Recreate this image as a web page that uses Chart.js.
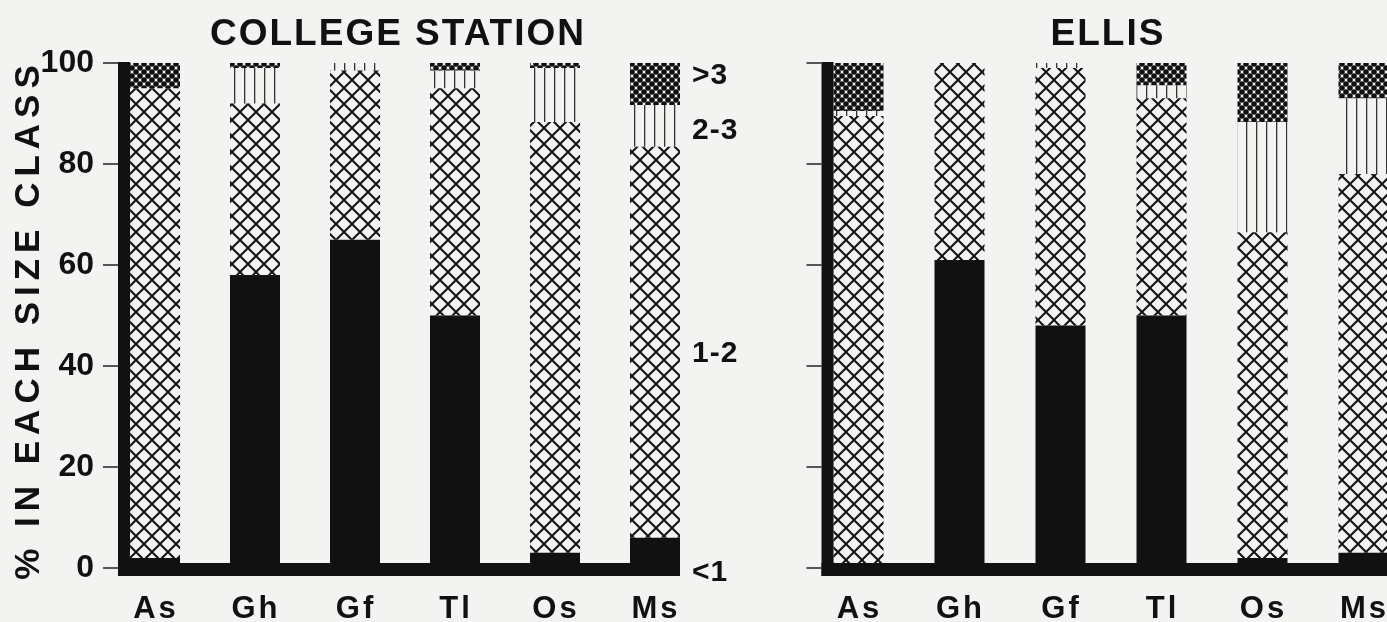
<!DOCTYPE html>
<html>
<head>
<meta charset="utf-8">
<script src="https://cdn.jsdelivr.net/npm/chart.js@4.4.1/dist/chart.umd.min.js"></script>
<style>
  html, body { margin: 0; padding: 0; background: #f3f3f1; width: 1387px; height: 622px; overflow: hidden; }
  #csWrap { position: absolute; left: 0; top: 0; }
  #elWrap { position: absolute; left: 702px; top: 0; }
</style>
</head>
<body>
<div id="csWrap"><canvas id="csChart" width="780" height="622"></canvas></div>
<div id="elWrap"><canvas id="elChart" width="720" height="622"></canvas></div>
<script>
// species along the x axis
const species = ['As', 'Gh', 'Gf', 'Tl', 'Os', 'Ms'];
const sizeClasses = ['<1', '1-2', '2-3', '>3'];
const yTicks = [0, 20, 40, 60, 80, 100];

// College Station, % in each size class
const csLt1 = [2, 58, 65, 50, 3, 6];
const cs12  = [93, 34, 33.5, 45, 85.3, 77.4];
const cs23  = [0, 7, 1.5, 3.5, 10.7, 8.3];
const csGt3 = [5, 1, 0, 1.5, 1, 8.3];

// Ellis, % in each size class
const elLt1 = [1, 61, 48, 50, 2, 3];
const el12  = [88.5, 39, 51, 43, 64.5, 75];
const el23  = [1, 0, 1, 2.6, 21.8, 15];
const elGt3 = [9.5, 0, 0, 4.4, 11.7, 7];

const INK = '#111';
const FONT = '"Liberation Sans", Arial, sans-serif';

function makePattern(kind) {
    const c = document.createElement('canvas');
    const g = c.getContext('2d');
    if (kind === 'cross') {
        c.width = c.height = 16;
        g.strokeStyle = INK;
        g.lineWidth = 2;
        g.beginPath();
        g.moveTo(-2, -2); g.lineTo(18, 18);
        g.moveTo(18, -2); g.lineTo(-2, 18);
        g.stroke();
    } else if (kind === 'lines') {
        c.width = 10; c.height = 10;
        g.fillStyle = '#333';
        g.fillRect(4, 0, 1.3, 10);
    } else if (kind === 'dots') {
        c.width = c.height = 8;
        g.fillStyle = INK;
        [[0, 0], [8, 0], [0, 8], [8, 8], [4, 4]].forEach(p => {
            g.beginPath();
            g.arc(p[0], p[1], 2.8, 0, Math.PI * 2);
            g.fill();
        });
    }
    return g.createPattern(c, 'repeat');
}

const fills = [INK, makePattern('cross'), makePattern('lines'), makePattern('dots')];

const decor = {
    id: 'decor',
    afterDatasetsDraw(chart, args, opts) {
        const ctx = chart.ctx;
        const x = chart.scales.x, y = chart.scales.y;
        const bars = chart.getDatasetMeta(0).data;
        const first = bars[0], last = bars[bars.length - 1];
        const left = first.x - first.width / 2;
        const right = last.x + last.width / 2;
        const y0 = y.getPixelForValue(0), y100 = y.getPixelForValue(100);

        ctx.save();
        ctx.fillStyle = INK;
        ctx.strokeStyle = '#222';
        // thick axes
        ctx.fillRect(left - 12, y100 - 1, 12, y0 + 8 - (y100 - 1));
        ctx.fillRect(left - 12, y0 - 5, right - left + 12, 13);
        // tick marks
        ctx.lineWidth = 1.5;
        yTicks.forEach(v => {
            const py = y.getPixelForValue(v);
            ctx.beginPath();
            ctx.moveTo(left - 27, py);
            ctx.lineTo(left - 12, py);
            ctx.stroke();
        });
        // category labels
        ctx.font = 'bold 31px ' + FONT;
        ctx.letterSpacing = '3px';
        ctx.textAlign = 'center';
        ctx.textBaseline = 'alphabetic';
        chart.data.labels.forEach((lab, i) => ctx.fillText(lab, x.getPixelForValue(i) + 1, 618));
        // panel title
        ctx.font = 'bold 37px ' + FONT;
        ctx.letterSpacing = '2px';
        ctx.fillText(opts.title, (x.getPixelForValue(2) + x.getPixelForValue(3)) / 2 + opts.titleShift, 45);
        // size class labels
        if (opts.classLabels) {
            ctx.font = 'bold 30px ' + FONT;
            ctx.letterSpacing = '1px';
            ctx.textAlign = 'left';
            ctx.textBaseline = 'middle';
            opts.classLabels.forEach(l => ctx.fillText(l.text, right + 12, y.getPixelForValue(l.v)));
        }
        // y axis title
        if (opts.yTitle) {
            ctx.translate(39, (y0 + y100) / 2 + 4);
            ctx.rotate(-Math.PI / 2);
            ctx.font = 'bold 35px ' + FONT;
            ctx.letterSpacing = '6px';
            ctx.textAlign = 'center';
            ctx.textBaseline = 'alphabetic';
            ctx.fillText(opts.yTitle, 0, 0);
        }
        ctx.restore();
    }
};

function drawPanel(id, series, opts) {
    const ctx = document.getElementById(id).getContext('2d');
    return new Chart(ctx, {
        type: 'bar',
        data: {
            labels: species,
            datasets: series.map((vals, i) => ({
                label: sizeClasses[i],
                data: vals,
                backgroundColor: fills[i],
                borderWidth: 0,
                barPercentage: opts.barPct,
                categoryPercentage: 1
            }))
        },
        options: {
            responsive: false,
            animation: false,
            devicePixelRatio: 1,
            layout: { padding: { top: 63, right: opts.padRight, bottom: 0, left: 0 } },
            plugins: {
                legend: { display: false },
                tooltip: { enabled: false },
                decor: opts.decor
            },
            scales: {
                x: {
                    stacked: true,
                    grid: { display: false },
                    border: { display: false },
                    ticks: { display: false },
                    afterFit: s => { s.height = 54; }
                },
                y: {
                    stacked: true,
                    min: 0,
                    max: 100,
                    grid: { display: false },
                    border: { display: false },
                    afterFit: s => { s.width = opts.axisWidth; },
                    afterBuildTicks: s => { s.ticks = yTicks.map(v => ({ value: v })); },
                    ticks: {
                        display: opts.showTicks,
                        padding: 3,
                        color: INK,
                        font: { family: FONT, size: 32, weight: 'bold' }
                    }
                }
            }
        },
        plugins: [decor]
    });
}

drawPanel('csChart', [csLt1, cs12, cs23, csGt3], {
    barPct: 0.5,
    padRight: 75,
    axisWidth: 105,
    showTicks: true,
    decor: {
        title: 'COLLEGE STATION',
        titleShift: -7,
        yTitle: '% IN EACH SIZE CLASS',
        classLabels: [
            { text: '>3', v: 97.5 },
            { text: '2-3', v: 86.5 },
            { text: '1-2', v: 42.5 },
            { text: '<1', v: -1 }
        ]
    }
});

drawPanel('elChart', [elLt1, el12, el23, elGt3], {
    barPct: 0.495,
    padRight: 8,
    axisWidth: 106,
    showTicks: false,
    decor: { title: 'ELLIS', titleShift: -3 }
});
</script>
</body>
</html>
